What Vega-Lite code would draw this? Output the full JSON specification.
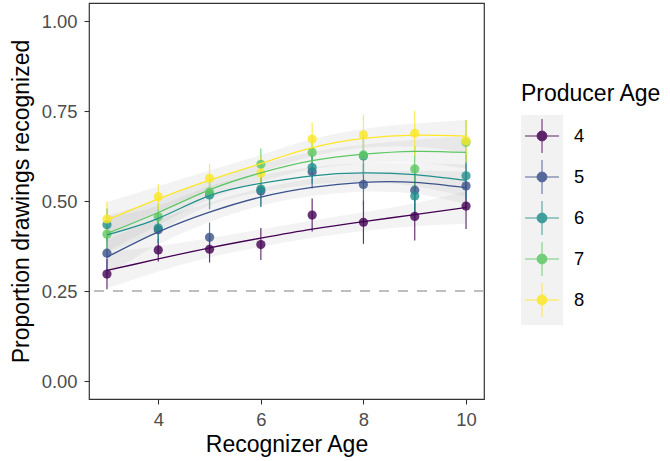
{
  "$schema": "https://vega.github.io/schema/vega-lite/v6.json",
  "width": 395,
  "height": 396,
  "autosize": {"type": "none"},
  "padding": {"left": 89, "top": 3, "right": 186, "bottom": 62},
  "background": "white",
  "config": {
    "font": "Liberation Sans",
    "view": {"stroke": "#333333", "strokeWidth": 1.2},
    "axis": {
      "grid": false,
      "domain": false,
      "tickColor": "#333333",
      "tickSize": 5,
      "tickWidth": 1.1,
      "labelColor": "#4D4D4D",
      "labelFontSize": 18.4,
      "labelFont": "Liberation Sans",
      "titleFont": "Liberation Sans",
      "titleFontSize": 23,
      "titleColor": "black",
      "titleFontWeight": "normal"
    },
    "legend": {
      "orient": "none",
      "legendX": 432,
      "legendY": 80,
      "padding": 0,
      "rowPadding": 0,
      "titleFont": "Liberation Sans",
      "labelFont": "Liberation Sans",
      "titleFontSize": 23,
      "titleFontWeight": "normal",
      "titleColor": "black",
      "titlePadding": 9,
      "labelFontSize": 18.4,
      "labelColor": "black",
      "labelOffset": 11
    }
  },
  "datasets": {
    "pts": [
      {"Recognizer": 3, "Producer": 4, "mean": 0.297, "lo": 0.255, "hi": 0.339},
      {"Recognizer": 4, "Producer": 4, "mean": 0.364, "lo": 0.332, "hi": 0.396},
      {"Recognizer": 5, "Producer": 4, "mean": 0.366, "lo": 0.329, "hi": 0.403},
      {"Recognizer": 6, "Producer": 4, "mean": 0.379, "lo": 0.336, "hi": 0.425},
      {"Recognizer": 7, "Producer": 4, "mean": 0.461, "lo": 0.415, "hi": 0.507},
      {"Recognizer": 8, "Producer": 4, "mean": 0.441, "lo": 0.381, "hi": 0.501},
      {"Recognizer": 9, "Producer": 4, "mean": 0.457, "lo": 0.390, "hi": 0.524},
      {"Recognizer": 10, "Producer": 4, "mean": 0.486, "lo": 0.422, "hi": 0.550},
      {"Recognizer": 3, "Producer": 5, "mean": 0.355, "lo": 0.310, "hi": 0.400},
      {"Recognizer": 4, "Producer": 5, "mean": 0.420, "lo": 0.382, "hi": 0.458},
      {"Recognizer": 5, "Producer": 5, "mean": 0.399, "lo": 0.358, "hi": 0.440},
      {"Recognizer": 6, "Producer": 5, "mean": 0.528, "lo": 0.483, "hi": 0.573},
      {"Recognizer": 7, "Producer": 5, "mean": 0.581, "lo": 0.535, "hi": 0.627},
      {"Recognizer": 8, "Producer": 5, "mean": 0.546, "lo": 0.489, "hi": 0.603},
      {"Recognizer": 9, "Producer": 5, "mean": 0.530, "lo": 0.466, "hi": 0.594},
      {"Recognizer": 10, "Producer": 5, "mean": 0.542, "lo": 0.480, "hi": 0.604},
      {"Recognizer": 3, "Producer": 6, "mean": 0.434, "lo": 0.389, "hi": 0.479},
      {"Recognizer": 4, "Producer": 6, "mean": 0.425, "lo": 0.384, "hi": 0.466},
      {"Recognizer": 5, "Producer": 6, "mean": 0.517, "lo": 0.477, "hi": 0.557},
      {"Recognizer": 6, "Producer": 6, "mean": 0.533, "lo": 0.485, "hi": 0.581},
      {"Recognizer": 7, "Producer": 6, "mean": 0.593, "lo": 0.547, "hi": 0.639},
      {"Recognizer": 8, "Producer": 6, "mean": 0.625, "lo": 0.568, "hi": 0.682},
      {"Recognizer": 9, "Producer": 6, "mean": 0.514, "lo": 0.450, "hi": 0.578},
      {"Recognizer": 10, "Producer": 6, "mean": 0.570, "lo": 0.508, "hi": 0.632},
      {"Recognizer": 3, "Producer": 7, "mean": 0.408, "lo": 0.363, "hi": 0.453},
      {"Recognizer": 4, "Producer": 7, "mean": 0.456, "lo": 0.419, "hi": 0.493},
      {"Recognizer": 5, "Producer": 7, "mean": 0.525, "lo": 0.485, "hi": 0.565},
      {"Recognizer": 6, "Producer": 7, "mean": 0.602, "lo": 0.558, "hi": 0.646},
      {"Recognizer": 7, "Producer": 7, "mean": 0.635, "lo": 0.589, "hi": 0.681},
      {"Recognizer": 8, "Producer": 7, "mean": 0.628, "lo": 0.571, "hi": 0.685},
      {"Recognizer": 9, "Producer": 7, "mean": 0.589, "lo": 0.525, "hi": 0.653},
      {"Recognizer": 10, "Producer": 7, "mean": 0.663, "lo": 0.601, "hi": 0.725},
      {"Recognizer": 3, "Producer": 8, "mean": 0.450, "lo": 0.402, "hi": 0.498},
      {"Recognizer": 4, "Producer": 8, "mean": 0.512, "lo": 0.476, "hi": 0.548},
      {"Recognizer": 5, "Producer": 8, "mean": 0.563, "lo": 0.522, "hi": 0.604},
      {"Recognizer": 6, "Producer": 8, "mean": 0.578, "lo": 0.533, "hi": 0.623},
      {"Recognizer": 7, "Producer": 8, "mean": 0.672, "lo": 0.626, "hi": 0.718},
      {"Recognizer": 8, "Producer": 8, "mean": 0.684, "lo": 0.628, "hi": 0.740},
      {"Recognizer": 9, "Producer": 8, "mean": 0.688, "lo": 0.626, "hi": 0.750},
      {"Recognizer": 10, "Producer": 8, "mean": 0.667, "lo": 0.608, "hi": 0.726}
    ],
    "fit": [
      {"Recognizer": 3, "Producer": 4, "fit": 0.307, "lo": 0.257, "hi": 0.357},
      {"Recognizer": 4, "Producer": 4, "fit": 0.339, "lo": 0.304, "hi": 0.374},
      {"Recognizer": 5, "Producer": 4, "fit": 0.370, "lo": 0.343, "hi": 0.397},
      {"Recognizer": 6, "Producer": 4, "fit": 0.397, "lo": 0.373, "hi": 0.421},
      {"Recognizer": 7, "Producer": 4, "fit": 0.422, "lo": 0.398, "hi": 0.446},
      {"Recognizer": 8, "Producer": 4, "fit": 0.443, "lo": 0.417, "hi": 0.469},
      {"Recognizer": 9, "Producer": 4, "fit": 0.462, "lo": 0.430, "hi": 0.494},
      {"Recognizer": 10, "Producer": 4, "fit": 0.482, "lo": 0.437, "hi": 0.527},
      {"Recognizer": 3, "Producer": 5, "fit": 0.344, "lo": 0.294, "hi": 0.394},
      {"Recognizer": 4, "Producer": 5, "fit": 0.414, "lo": 0.379, "hi": 0.449},
      {"Recognizer": 5, "Producer": 5, "fit": 0.469, "lo": 0.442, "hi": 0.496},
      {"Recognizer": 6, "Producer": 5, "fit": 0.511, "lo": 0.487, "hi": 0.535},
      {"Recognizer": 7, "Producer": 5, "fit": 0.538, "lo": 0.514, "hi": 0.562},
      {"Recognizer": 8, "Producer": 5, "fit": 0.552, "lo": 0.526, "hi": 0.578},
      {"Recognizer": 9, "Producer": 5, "fit": 0.552, "lo": 0.520, "hi": 0.584},
      {"Recognizer": 10, "Producer": 5, "fit": 0.537, "lo": 0.492, "hi": 0.582},
      {"Recognizer": 3, "Producer": 6, "fit": 0.406, "lo": 0.356, "hi": 0.456},
      {"Recognizer": 4, "Producer": 6, "fit": 0.452, "lo": 0.417, "hi": 0.487},
      {"Recognizer": 5, "Producer": 6, "fit": 0.515, "lo": 0.488, "hi": 0.542},
      {"Recognizer": 6, "Producer": 6, "fit": 0.549, "lo": 0.525, "hi": 0.573},
      {"Recognizer": 7, "Producer": 6, "fit": 0.570, "lo": 0.546, "hi": 0.594},
      {"Recognizer": 8, "Producer": 6, "fit": 0.578, "lo": 0.552, "hi": 0.604},
      {"Recognizer": 9, "Producer": 6, "fit": 0.573, "lo": 0.541, "hi": 0.605},
      {"Recognizer": 10, "Producer": 6, "fit": 0.557, "lo": 0.512, "hi": 0.602},
      {"Recognizer": 3, "Producer": 7, "fit": 0.410, "lo": 0.360, "hi": 0.460},
      {"Recognizer": 4, "Producer": 7, "fit": 0.468, "lo": 0.433, "hi": 0.503},
      {"Recognizer": 5, "Producer": 7, "fit": 0.531, "lo": 0.504, "hi": 0.558},
      {"Recognizer": 6, "Producer": 7, "fit": 0.578, "lo": 0.554, "hi": 0.602},
      {"Recognizer": 7, "Producer": 7, "fit": 0.612, "lo": 0.588, "hi": 0.636},
      {"Recognizer": 8, "Producer": 7, "fit": 0.630, "lo": 0.604, "hi": 0.656},
      {"Recognizer": 9, "Producer": 7, "fit": 0.638, "lo": 0.606, "hi": 0.670},
      {"Recognizer": 10, "Producer": 7, "fit": 0.635, "lo": 0.590, "hi": 0.680},
      {"Recognizer": 3, "Producer": 8, "fit": 0.447, "lo": 0.397, "hi": 0.497},
      {"Recognizer": 4, "Producer": 8, "fit": 0.506, "lo": 0.471, "hi": 0.541},
      {"Recognizer": 5, "Producer": 8, "fit": 0.558, "lo": 0.531, "hi": 0.585},
      {"Recognizer": 6, "Producer": 8, "fit": 0.604, "lo": 0.580, "hi": 0.628},
      {"Recognizer": 7, "Producer": 8, "fit": 0.648, "lo": 0.624, "hi": 0.672},
      {"Recognizer": 8, "Producer": 8, "fit": 0.674, "lo": 0.648, "hi": 0.700},
      {"Recognizer": 9, "Producer": 8, "fit": 0.683, "lo": 0.651, "hi": 0.715},
      {"Recognizer": 10, "Producer": 8, "fit": 0.680, "lo": 0.635, "hi": 0.725}
    ]
  },
  "encoding": {
    "x": {
      "field": "Recognizer",
      "type": "quantitative",
      "scale": {"domain": [2.65, 10.35], "nice": false, "zero": false},
      "axis": {"values": [4, 6, 8, 10], "title": "Recognizer Age", "labelPadding": 6, "titlePadding": 5}
    }
  },
  "layer": [
    {
      "data": {"name": "pts"},
      "mark": {"type": "point", "filled": true, "size": 0, "color": "#F2F2F2"},
      "encoding": {
        "y": {"field": "mean", "type": "quantitative", "scale": {"domain": [-0.05, 1.05], "nice": false, "zero": false}},
        "shape": {
          "field": "Producer",
          "type": "nominal",
          "scale": {"domain": [4, 5, 6, 7, 8], "range": ["square"]},
          "legend": {
            "title": "Producer Age",
            "symbolType": "square",
            "symbolSize": 1764,
            "symbolFillColor": "#F2F2F2",
            "symbolStrokeColor": "#F2F2F2",
            "symbolStrokeWidth": 0,
            "symbolOpacity": 1,
            "labelExpr": "''",
            "labelOpacity": 0,
            "titleOpacity": 0,
            "zindex": 0
          }
        }
      }
    },
    {
      "data": {"name": "fit"},
      "mark": {"type": "area", "interpolate": "natural", "color": "#999999", "opacity": 0.12},
      "encoding": {
        "y": {"field": "lo", "type": "quantitative", "scale": {"domain": [-0.05, 1.05], "nice": false, "zero": false}},
        "y2": {"field": "hi"},
        "detail": {"field": "Producer", "type": "nominal"}
      }
    },
    {
      "data": {"values": [{"chance": 0.25}]},
      "mark": {"type": "rule", "color": "#BEBEBE", "strokeDash": [10, 9], "strokeWidth": 1.8},
      "encoding": {
        "x": null,
        "y": {"field": "chance", "type": "quantitative"}
      }
    },
    {
      "data": {"name": "pts"},
      "mark": {"type": "rule", "strokeWidth": 1.2, "opacity": 0.8},
      "encoding": {
        "y": {"field": "lo", "type": "quantitative"},
        "y2": {"field": "hi"},
        "color": {"field": "Producer", "type": "nominal", "scale": {"range": ["#440154", "#3B528B", "#21908C", "#5DC863", "#FDE725"]}}
      }
    },
    {
      "data": {"name": "pts"},
      "mark": {"type": "point", "filled": true, "size": 85, "opacity": 0.8},
      "encoding": {
        "y": {
          "field": "mean",
          "type": "quantitative",
          "axis": {
            "values": [0, 0.25, 0.5, 0.75, 1],
            "format": ".2f",
            "title": "Proportion drawings recognized",
            "labelPadding": 7,
            "titlePadding": 8
          }
        },
        "color": {
          "field": "Producer",
          "type": "nominal",
          "legend": {
            "title": "Producer Age",
            "symbolType": "M-0.83,0L0.83,0M0,-0.83L0,0.83M0.24,0A0.24,0.24,0,1,1,-0.24,0A0.24,0.24,0,1,1,0.24,0Z",
            "symbolSize": 1681,
            "symbolStrokeWidth": 1,
            "symbolOpacity": 0.85,
            "zindex": 1,
            "encode": {
              "symbols": {
                "update": {
                  "fill": {"scale": "color", "field": "value"},
                  "stroke": {"scale": "color", "field": "value"}
                }
              }
            }
          }
        }
      }
    },
    {
      "data": {"name": "fit"},
      "mark": {"type": "line", "interpolate": "natural", "strokeWidth": 1.3},
      "encoding": {
        "y": {"field": "fit", "type": "quantitative"},
        "color": {"field": "Producer", "type": "nominal"}
      }
    }
  ]
}
